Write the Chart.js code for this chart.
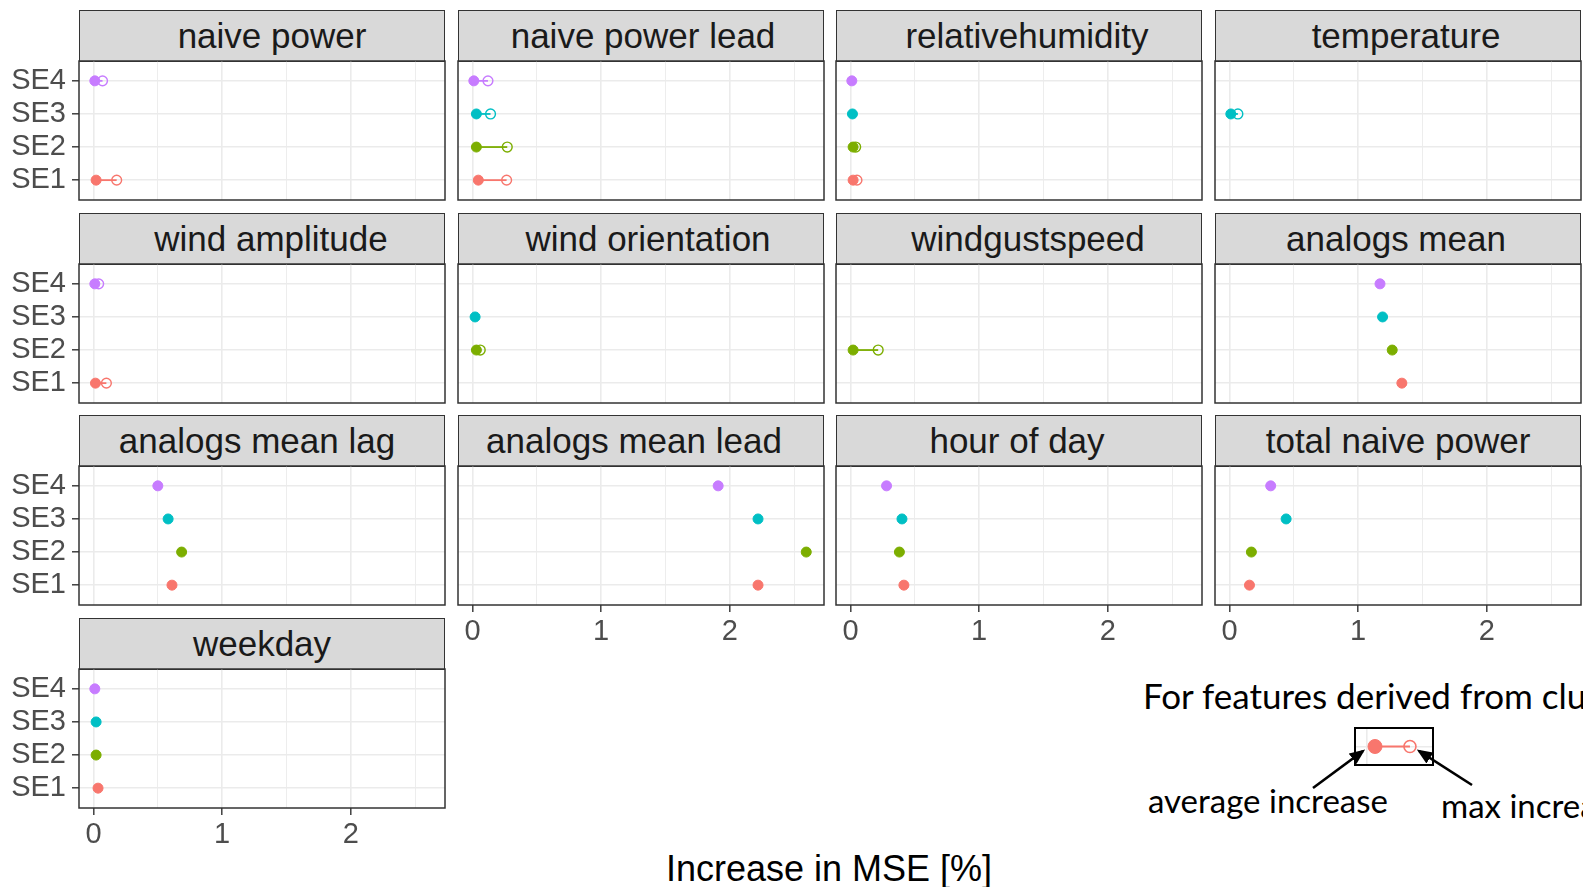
<!DOCTYPE html>
<html>
<head>
<meta charset="utf-8">
<script src="https://cdn.jsdelivr.net/npm/chart.js@4.4.0/dist/chart.umd.min.js"></script>
<style>
  html, body { margin: 0; padding: 0; background: #fff; }
  body { width: 1583px; height: 887px; position: relative; overflow: hidden; font-family: "Liberation Sans", Arial, sans-serif; }
  canvas { position: absolute; }
  .strip { position: absolute; box-sizing: border-box; background: #D9D9D9; border: 1.5px solid #333; display: flex; align-items: center; justify-content: center; font-size: 35px; color: #1a1a1a; white-space: nowrap; }
  .note { position: absolute; font-family: Lato, "Open Sans", sans-serif; font-size: 33px; line-height: 1; color: #000; white-space: nowrap; }
  #xtitle { position: absolute; left: 829px; top: 851px; transform: translateX(-50%); font-size: 36px; line-height: 1; color: #000; white-space: nowrap; }
  #inset { position: absolute; left: 1354px; top: 727px; width: 76px; height: 35px; border: 2px solid #000; }
</style>
</head>
<body>
<div id="xtitle">Increase in MSE [%]</div>
<div class="note" style="left:1143px; top:678px; font-size:35px;">For features derived from clusters</div>
<div class="note" style="left:1148px; top:784px;">average increase</div>
<div class="note" style="left:1441px; top:789px;">max increase</div>
<div id="inset"></div>
<svg width="1583" height="887" style="position:absolute;left:0;top:0;pointer-events:none">
  <defs>
    <marker id="ah" markerWidth="6" markerHeight="5" refX="5" refY="2.5" orient="auto" markerUnits="strokeWidth">
      <path d="M0,0 L6,2.5 L0,5 z" fill="#000"/>
    </marker>
  </defs>
  <line x1="1313" y1="788" x2="1363" y2="751" stroke="#000" stroke-width="2.6" marker-end="url(#ah)"/>
  <line x1="1472" y1="785" x2="1419" y2="751" stroke="#000" stroke-width="2.6" marker-end="url(#ah)"/>
</svg>
<script>
// facets, in the order of the panels
const features = ['naive power', 'naive power lead', 'relativehumidity', 'temperature',
  'wind amplitude', 'wind orientation', 'windgustspeed', 'analogs mean',
  'analogs mean lag', 'analogs mean lead', 'hour of day', 'total naive power', 'weekday'];
const regions = ['SE1', 'SE2', 'SE3', 'SE4'];
const regionColors = ['#F8766D', '#7CAE00', '#00BFC4', '#C77CFF'];

// average increase in MSE [%] (filled dots)
const avgSE1 = [0.02, 0.045, 0.02, null, 0.015, null, null, 1.34, 0.61, 2.22, 0.415, 0.155, 0.035];
const avgSE2 = [null, 0.03, 0.02, null, null, 0.03, 0.02, 1.265, 0.685, 2.595, 0.38, 0.17, 0.02];
const avgSE3 = [null, 0.03, 0.015, 0.01, null, 0.02, null, 1.19, 0.58, 2.22, 0.40, 0.44, 0.02];
const avgSE4 = [0.01, 0.01, 0.01, null, 0.01, null, null, 1.17, 0.50, 1.91, 0.28, 0.32, 0.01];

// max increase (open circles), only for features derived from clusters
const maxSE1 = [0.18, 0.265, 0.05, null, 0.10, null, null, null, null, null, null, null, null];
const maxSE2 = [null, 0.27, 0.04, null, null, 0.06, 0.215, null, null, null, null, null, null];
const maxSE3 = [null, 0.14, null, 0.065, null, null, null, null, null, null, null, null, null];
const maxSE4 = [0.07, 0.12, null, null, 0.04, null, null, null, null, null, null, null, null];

const xTicks = [0, 0.5, 1, 1.5, 2, 2.5];
const xMin = -0.113, xMax = 2.733;

// inset example in the annotation box
const legendAvg = [0.25];
const legendMax = [0.71];

const avgAll = [avgSE1, avgSE2, avgSE3, avgSE4];
const maxAll = [maxSE1, maxSE2, maxSE3, maxSE4];

const FONT = '"Liberation Sans", Arial, sans-serif';
Chart.defaults.font.family = FONT;

const PANEL_W = 366, PLOT_H = 139, STRIP_H = 51, Y_AXIS_W = 79, X_AXIS_H = 60, PAD = 2;
const colLeft = (c) => Math.round(79 + c * 378.7);
const plotTop = (r) => Math.round(61 + r * 202.6);
// strip titles are not quite centred in the original
const stripShift = [10, 2, 8, 8, 9, 7, 9, -2, -5, -7, -2, 0, 0];

const panelBox = {
  id: 'panelBox',
  afterDraw(chart) {
    const { ctx, chartArea: a } = chart;
    ctx.save();
    ctx.strokeStyle = '#333';
    ctx.lineWidth = 1.5;
    ctx.strokeRect(a.left, a.top, a.right - a.left, a.bottom - a.top);
    ctx.restore();
  },
};

const isMajor = (c) => c.tick && Number.isInteger(c.tick.value);

features.forEach((name, i) => {
  const r = Math.floor(i / 4), c = i % 4;
  const showX = (r === 2 && c > 0) || r === 3;
  const showY = c === 0;
  const left = colLeft(c), top = plotTop(r);

  const strip = document.createElement('div');
  strip.className = 'strip';
  strip.style.left = left + 'px';
  strip.style.top = (top - STRIP_H) + 'px';
  strip.style.width = PANEL_W + 'px';
  strip.style.height = (STRIP_H + 1) + 'px';
  strip.style.paddingLeft = Math.max(0, 2 * stripShift[i]) + 'px';
  strip.style.paddingRight = Math.max(0, -2 * stripShift[i]) + 'px';
  strip.textContent = name;
  document.body.appendChild(strip);

  const canvas = document.createElement('canvas');
  canvas.width = Y_AXIS_W + PANEL_W + PAD;
  canvas.height = PLOT_H + X_AXIS_H + PAD;
  canvas.style.left = (left - Y_AXIS_W) + 'px';
  canvas.style.top = (top - PAD) + 'px';
  document.body.appendChild(canvas);

  const datasets = [];
  regions.forEach((reg, k) => {
    const avg = avgAll[k][i], mx = maxAll[k][i];
    if (avg == null) return;
    const data = [{ x: avg, y: k + 1 }];
    if (mx != null) data.push({ x: mx, y: k + 1 });
    datasets.push({
      label: reg,
      data,
      showLine: true,
      borderColor: regionColors[k],
      borderWidth: 1.8,
      pointRadius: [5, 4.9],
      pointBorderWidth: [1, 1.4],
      pointBorderColor: regionColors[k],
      pointBackgroundColor: [regionColors[k], 'rgba(0,0,0,0)'],
    });
  });

  new Chart(canvas, {
    type: 'scatter',
    data: { datasets },
    options: {
      responsive: false,
      animation: false,
      events: [],
      layout: { autoPadding: false, padding: { top: PAD, right: PAD, left: 0, bottom: 0 } },
      plugins: { legend: { display: false }, tooltip: { enabled: false } },
      scales: {
        x: {
          type: 'linear',
          min: xMin,
          max: xMax,
          afterBuildTicks: (s) => { s.ticks = xTicks.map((v) => ({ value: v })); },
          afterFit: (s) => { s.height = X_AXIS_H; s.paddingLeft = 0; s.paddingRight = 0; },
          border: { display: false },
          grid: {
            color: '#EBEBEB',
            lineWidth: (ctx) => (isMajor(ctx) ? 1.6 : 0.9),
            tickLength: 7,
            tickWidth: 1.4,
            tickColor: (ctx) => (showX && isMajor(ctx) ? '#333' : 'rgba(0,0,0,0)'),
          },
          ticks: {
            display: showX,
            autoSkip: false,
            maxRotation: 0,
            padding: 3,
            color: '#4D4D4D',
            font: { size: 29 },
            callback: (v) => (Number.isInteger(v) ? String(v) : ''),
          },
        },
        y: {
          type: 'linear',
          min: 0.4,
          max: 4.6,
          afterBuildTicks: (s) => { s.ticks = regions.map((reg, k) => ({ value: k + 1 })); },
          afterFit: (s) => { s.width = Y_AXIS_W; s.paddingTop = 0; s.paddingBottom = 0; },
          border: { display: false },
          grid: {
            color: '#EBEBEB',
            lineWidth: 1.6,
            tickLength: 7,
            tickWidth: 1.4,
            tickColor: showY ? '#333' : 'rgba(0,0,0,0)',
          },
          ticks: {
            display: showY,
            padding: 6,
            color: '#4D4D4D',
            font: { size: 29 },
            callback: (v) => regions[v - 1],
          },
        },
      },
    },
    plugins: [panelBox],
  });
});

// small example inside the annotation box
const insetCanvas = document.createElement('canvas');
insetCanvas.width = 76;
insetCanvas.height = 35;
insetCanvas.style.left = '1356px';
insetCanvas.style.top = '729px';
document.body.appendChild(insetCanvas);
new Chart(insetCanvas, {
  type: 'scatter',
  data: {
    datasets: [{
      data: [{ x: legendAvg[0], y: 1 }, { x: legendMax[0], y: 1 }],
      showLine: true,
      borderColor: regionColors[0],
      borderWidth: 2,
      pointRadius: [7, 6],
      pointBorderWidth: [1, 1.6],
      pointBorderColor: regionColors[0],
      pointBackgroundColor: [regionColors[0], 'rgba(0,0,0,0)'],
    }],
  },
  options: {
    responsive: false,
    animation: false,
    events: [],
    layout: { autoPadding: false, padding: 0 },
    plugins: { legend: { display: false }, tooltip: { enabled: false } },
    scales: {
      x: {
        min: 0, max: 1, display: true,
        afterBuildTicks: (s) => { s.ticks = [{ value: 0.14 }]; },
        afterFit: (s) => { s.height = 0; s.paddingLeft = 0; s.paddingRight = 0; },
        ticks: { display: false },
        border: { display: false },
        grid: { color: '#EBEBEB', lineWidth: 1.6, drawTicks: false },
      },
      y: {
        min: 0.5, max: 1.5, display: true,
        afterBuildTicks: (s) => { s.ticks = [{ value: 1 }]; },
        afterFit: (s) => { s.width = 0; s.paddingTop = 0; s.paddingBottom = 0; },
        ticks: { display: false },
        border: { display: false },
        grid: { color: '#EBEBEB', lineWidth: 1.6, drawTicks: false },
      },
    },
  },
});
</script>
</body>
</html>
